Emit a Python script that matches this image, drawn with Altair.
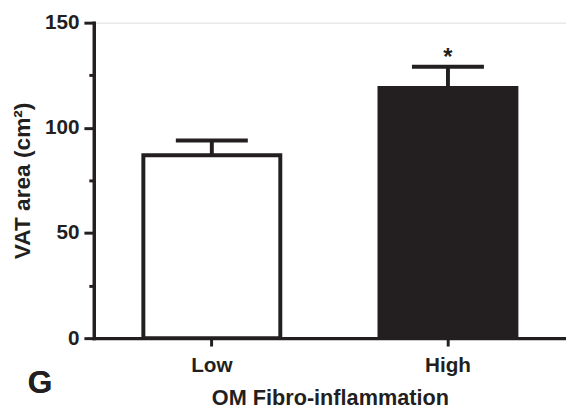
import altair as alt
import pandas as pd

groups = ["Low", "High"]
means = [87, 119]
sems = [7, 10]
fills = ["#ffffff", "#231f20"]
stars = ["", "*"]

ink = "#231f20"
font = "Liberation Sans"

df = pd.DataFrame({"group": groups, "mean": means, "sem": sems,
                   "fill": fills, "star": stars})
df["top"] = df["mean"] + df["sem"]

x = alt.X("group:N", sort=groups,
          scale=alt.Scale(paddingInner=0.42, paddingOuter=0.21),
          axis=alt.Axis(title="OM Fibro-inflammation", labelAngle=0,
                        labelFont=font, labelFontSize=21, labelFontWeight="bold",
                        labelColor=ink, labelPadding=9,
                        titleFont=font, titleFontSize=22, titleFontWeight="bold",
                        titleColor=ink, titlePadding=12,
                        tickSize=8, tickWidth=3, tickColor=ink,
                        domainWidth=3.5, domainColor=ink, domainCap="square"))

yscale = alt.Scale(domain=[0, 150], nice=False)

y = alt.Y("mean:Q", scale=yscale,
          axis=alt.Axis(title="VAT area (cm²)",
                        values=[0, 25, 50, 75, 100, 125, 150],
                        labelExpr="datum.value % 50 === 0 ? datum.label : ''",
                        labelFont=font, labelFontSize=21, labelFontWeight="bold",
                        labelColor=ink, labelPadding=5,
                        titleFont=font, titleFontSize=23, titleFontWeight="bold",
                        titleColor=ink, titlePadding=10,
                        tickSize={"condition": {"test": "datum.value % 50 === 0", "value": 10}, "value": 5},
                        tickWidth=3, tickColor=ink,
                        domainWidth=3.5, domainColor=ink, domainCap="square",
                        grid=False))

base = alt.Chart(df)

stems = base.mark_rule(color=ink, strokeWidth=4).encode(
    x=x, y=alt.Y("mean:Q", scale=yscale), y2="top:Q")

bars = base.mark_bar(stroke=ink, strokeWidth=4, strokeJoin="miter").encode(
    x=x, y=y, fill=alt.Fill("fill:N", scale=None))

caps = base.mark_tick(color=ink, opacity=1, size=73, thickness=4,
                      orient="horizontal").encode(
    x=x, y=alt.Y("top:Q", scale=yscale))

star = base.mark_text(font=font, fontSize=24, fontWeight="bold", color=ink,
                      baseline="alphabetic", dy=-2).encode(
    x=x, y=alt.Y("top:Q", scale=yscale), text="star:N")

letter = base.mark_text(text="G", font=font, fontSize=32, fontWeight="bold",
                        color=ink, align="left", baseline="alphabetic").encode(
    x=alt.value(-67), y=alt.value(376))

chart = alt.layer(stems, bars, caps, star, letter).properties(
    width=479, height=320,
    autosize=alt.AutoSizeParams(type="none"),
    padding={"left": 87, "top": 12, "right": 0, "bottom": 70},
).configure_view(stroke=None).configure(background="white")

chart.save("out.html", embed_options={"renderer": "svg", "actions": False})
